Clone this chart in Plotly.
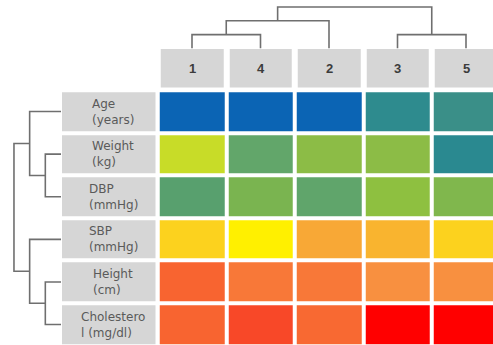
import plotly.graph_objects as go

# Column (subject) order after clustering, and row variables
col_labels = ["1", "4", "2", "3", "5"]
row_labels = ["Age<br>(years)", "Weight<br>(kg)", "DBP<br>(mmHg)",
              "SBP<br>(mmHg)", "Height<br>(cm)", "Cholestero<br>l (mg/dl)"]

# Scaled values per row (0 = low, 1 = high), columns in display order
age_vals = [0.00, 0.00, 0.00, 0.10, 0.13]
weight_vals = [0.52, 0.28, 0.42, 0.42, 0.09]
dbp_vals = [0.24, 0.36, 0.27, 0.46, 0.38]
sbp_vals = [0.65, 0.60, 0.72, 0.70, 0.65]
height_vals = [0.84, 0.80, 0.80, 0.76, 0.76]
chol_vals = [0.84, 0.88, 0.83, 1.00, 1.00]

# Linkage trees: (left, right, height); leaves are display positions
col_tree = (((0, 1, 1.0), 2, 2.0), (3, 4, 1.0), 3.0)
row_tree = ((0, (1, 2, 1.0), 2.0), (3, (4, 5, 1.0), 2.0), 3.0)

z = [age_vals, weight_vals, dbp_vals, sbp_vals, height_vals, chol_vals]

W, H = 493, 345
LINE = "#6f6f6f"
BOX = "#d6d6d6"

colorscale = [
    [0.00, "#0b64b4"], [0.09, "#2a8990"], [0.13, "#3a8f88"],
    [0.24, "#58a06e"], [0.28, "#62a66a"], [0.36, "#7ab450"],
    [0.42, "#8cbc46"], [0.46, "#8ec040"], [0.52, "#c8dc28"],
    [0.60, "#fff000"], [0.65, "#fcd21e"], [0.72, "#f8a836"],
    [0.76, "#f89040"], [0.80, "#f87838"], [0.84, "#f86430"],
    [0.88, "#f84828"], [0.94, "#fa2418"], [1.00, "#ff0000"],
]


def dendro_segments(node):
    """Return (position, height, xs, ys) for U-shaped dendrogram links."""
    if isinstance(node, int):
        return float(node), 0.0, [], []
    left, right, h = node
    pl, hl, xl, yl = dendro_segments(left)
    pr, hr, xr, yr = dendro_segments(right)
    xs = xl + xr + [pl, pl, pr, pr, None]
    ys = yl + yr + [hl, h, h, hr, None]
    return (pl + pr) / 2.0, h, xs, ys


fig = go.Figure()

# Main heatmap
fig.add_trace(go.Heatmap(
    z=z, x=list(range(len(col_labels))), y=list(range(len(row_labels))),
    colorscale=colorscale, zmin=0, zmax=1, showscale=False,
    xgap=4, ygap=4, hoverinfo="skip", xaxis="x", yaxis="y",
))

# Column header boxes
fig.add_trace(go.Heatmap(
    z=[[0] * len(col_labels)], x=list(range(len(col_labels))), y=[0],
    colorscale=[[0, BOX], [1, BOX]], showscale=False, xgap=6,
    hoverinfo="skip", xaxis="x", yaxis="y2",
))

# Row label boxes
fig.add_trace(go.Heatmap(
    z=[[0] for _ in row_labels], x=[0], y=list(range(len(row_labels))),
    colorscale=[[0, BOX], [1, BOX]], showscale=False, ygap=4,
    hoverinfo="skip", xaxis="x2", yaxis="y",
))

# Column dendrogram (top)
_, _, cx, cy = dendro_segments(col_tree)
fig.add_trace(go.Scatter(x=cx, y=cy, mode="lines",
                         line=dict(color=LINE, width=1.6),
                         hoverinfo="skip", xaxis="x", yaxis="y3"))

# Row dendrogram (left)
_, _, ry, rx = dendro_segments(row_tree)
fig.add_trace(go.Scatter(x=rx, y=ry, mode="lines",
                         line=dict(color=LINE, width=1.6),
                         hoverinfo="skip", xaxis="x3", yaxis="y"))

annotations = []
for i, lab in enumerate(col_labels):
    annotations.append(dict(
        x=i, y=0, xref="x", yref="y2", text="<b>" + lab + "</b>",
        showarrow=False, font=dict(family="Liberation Sans", size=13,
                                   color="#3c3c3c"),
    ))
for j, lab in enumerate(row_labels):
    annotations.append(dict(
        x=0.05, y=j, xref="x2", yref="y", text=lab, align="left",
        showarrow=False, font=dict(family="DejaVu Sans", size=12,
                                   color="#5a5a5a"),
    ))

pitch_x = 68.5
x_left = 157.75
pitch_y = 42.6
y_top = 90.25


def fx(px):
    return px / W


def fy(py):
    return (H - py) / H


hidden = dict(visible=False, showgrid=False, zeroline=False, fixedrange=True)

fig.update_layout(
    width=W, height=H, margin=dict(l=0, r=0, t=0, b=0),
    paper_bgcolor="white", plot_bgcolor="rgba(0,0,0,0)",
    showlegend=False, annotations=annotations,
    xaxis=dict(domain=[fx(x_left), 1.0],
               range=[-0.5, -0.5 + (W - x_left) / pitch_x], **hidden),
    yaxis=dict(domain=[0, fy(y_top)],
               range=[-0.5 + (H - y_top) / pitch_y, -0.5], **hidden),
    xaxis2=dict(domain=[fx(62), fx(155.5)], range=[-0.5, 0.5],
                anchor="y", **hidden),
    yaxis2=dict(domain=[fy(87.5), fy(49)], range=[-0.5, 0.5],
                anchor="x", **hidden),
    yaxis3=dict(domain=[fy(48.5), fy(5.6)], range=[0, 3.1],
                anchor="x", **hidden),
    xaxis3=dict(domain=[fx(12.4), fx(61)], range=[3.1, 0],
                anchor="y", **hidden),
)

fig.write_html("out.html")
